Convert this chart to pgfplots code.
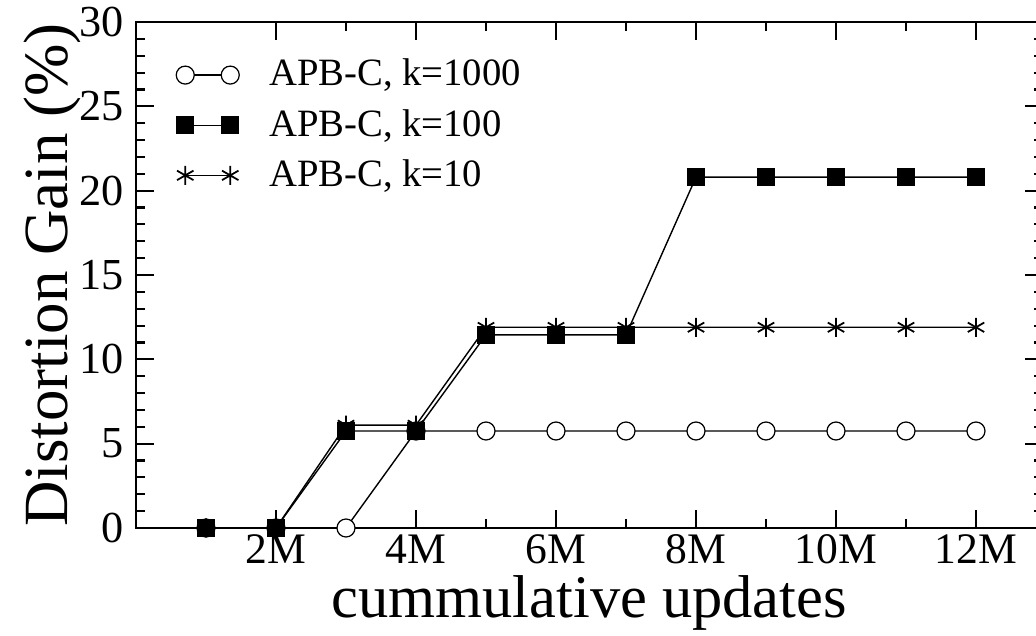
\documentclass[border=0pt]{standalone}
\usepackage{fontspec}
\setmainfont{Liberation Serif}
\usepackage{pgfplots}
\pgfplotsset{compat=1.18}
\begin{document}
\begin{tikzpicture}
\begin{axis}[
    scale only axis,
    width=90.65mm, height=50.6mm,
    xmin=0, xmax=12.95,
    ymin=0, ymax=30,
    xtick={2,4,...,12},
    xticklabels={2M,4M,6M,8M,10M,12M},
    ytick={0,5,...,30},
    minor x tick num=1,
    minor y tick num=4,
    major tick length=1.8mm,
    minor tick length=0.9mm,
    axis line style={line width=0.6pt},
    tick style={black, line width=0.6pt},
    /pgf/number format/assume math mode=true,
    yticklabel style={font=\fontsize{12.6}{14}\selectfont},
    xticklabel style={font=\fontsize{12.4}{14}\selectfont, inner sep=0pt, yshift=-0.6mm},
    xlabel={cummulative updates},
    ylabel={Distortion Gain (\%)},
    xlabel style={font=\fontsize{17.2}{20}\selectfont, inner sep=0pt,
        at={(axis description cs:0.5,-0.177)}, anchor=base},
    ylabel style={font=\fontsize{17.9}{20}\selectfont,
        at={(axis description cs:-0.092,0.5)}, anchor=center},
    legend style={draw=none, fill=none, at={(axis description cs:0.032,0.956)},
        anchor=north west, font=\fontsize{11}{13}\selectfont,
        column sep=2.3mm, row sep=0.4mm},
    legend cell align=left,
    legend image code/.code={
        \draw[mark repeat=1,mark phase=1,#1] plot coordinates {(0mm,0mm) (4.5mm,0mm)};
    },
]
\addplot[black, line width=0.4pt, mark=*, mark size=0.9mm,
    mark options={fill=white, line width=0.35pt}] coordinates {
    (1,0) (2,0) (3,0) (4,5.75) (5,5.75) (6,5.75) (7,5.75)
    (8,5.75) (9,5.75) (10,5.75) (11,5.75) (12,5.75)
};
\addplot[black, line width=0.4pt, mark=square*, mark size=0.85mm] coordinates {
    (1,0) (2,0) (3,5.75) (4,5.75) (5,11.45) (6,11.45) (7,11.45)
    (8,20.8) (9,20.8) (10,20.8) (11,20.8) (12,20.8)
};
\addplot[black, line width=0.4pt, mark=asterisk, mark size=0.95mm,
    mark options={line width=0.5pt}] coordinates {
    (1,0) (2,0) (3,6.1) (4,6.1) (5,11.9) (6,11.9) (7,11.9)
    (8,11.9) (9,11.9) (10,11.9) (11,11.9) (12,11.9)
};
\legend{{APB-C, k=1000},{APB-C, k=100},{APB-C, k=10}}
\end{axis}
\pgfresetboundingbox
\path[use as bounding box] ([shift={(-13.6mm,-10.8mm)}]current axis.south west)
    rectangle ([shift={(90.0mm,52.8mm)}]current axis.south west);
\end{tikzpicture}
\end{document}
